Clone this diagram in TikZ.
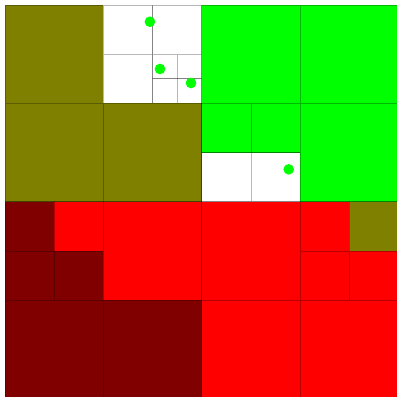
\documentclass[tikz,border=0pt]{standalone}
\usepackage{tikz}
\usepackage[dvipsnames]{xcolor}

\definecolor{olivecell}{HTML}{808000}
\definecolor{greencell}{HTML}{00FF00}
\definecolor{redcell}{HTML}{FF0000}
\definecolor{darkcell}{HTML}{800000}

\tikzset{
  cell/.style={draw=black, draw opacity=0.28, line width=0.45pt},
  point/.style={fill=greencell},
}

\begin{document}
\begin{tikzpicture}
      \useasboundingbox (-0.102,0.033) rectangle (7.947,8.102);

      % Upper left quarter: olive, with the white corner split further
      \filldraw[cell, fill=olivecell] (0,6) rectangle (2,8);
      \filldraw[cell, fill=white] (2,7) rectangle (3,8);
      \filldraw[cell, fill=white] (3,7) rectangle (4,8);
      \filldraw[cell, fill=white] (2,6) rectangle (3,7);
      \filldraw[cell, fill=white] (3,6.5) rectangle (3.5,7);
      \filldraw[cell, fill=white] (3.5,6.5) rectangle (4,7);
      \filldraw[cell, fill=white] (3,6) rectangle (3.5,6.5);
      \filldraw[cell, fill=white] (3.5,6) rectangle (4,6.5);
      \filldraw[cell, fill=olivecell] (0,4) rectangle (2,6);
      \filldraw[cell, fill=olivecell] (2,4) rectangle (4,6);

      % Upper right quarter: green, two white cells below
      \filldraw[cell, fill=greencell] (4,6) rectangle (6,8);
      \filldraw[cell, fill=greencell] (6,6) rectangle (8,8);
      \filldraw[cell, fill=greencell] (4,5) rectangle (5,6);
      \filldraw[cell, fill=greencell] (5,5) rectangle (6,6);
      \filldraw[cell, fill=white] (4,4) rectangle (5,5);
      \filldraw[cell, fill=white] (5,4) rectangle (6,5);
      \filldraw[cell, fill=greencell] (6,4) rectangle (8,6);

      % Lower left quarter: dark red and red
      \filldraw[cell, fill=darkcell] (0,3) rectangle (1,4);
      \filldraw[cell, fill=redcell] (1,3) rectangle (2,4);
      \filldraw[cell, fill=darkcell] (0,2) rectangle (1,3);
      \filldraw[cell, fill=darkcell] (1,2) rectangle (2,3);
      \filldraw[cell, fill=redcell] (2,2) rectangle (4,4);
      \filldraw[cell, fill=darkcell] (0,0) rectangle (2,2);
      \filldraw[cell, fill=darkcell] (2,0) rectangle (4,2);

      % Lower right quarter: red, one olive cell
      \filldraw[cell, fill=redcell] (4,2) rectangle (6,4);
      \filldraw[cell, fill=redcell] (6,3) rectangle (7,4);
      \filldraw[cell, fill=olivecell] (7,3) rectangle (8,4);
      \filldraw[cell, fill=redcell] (6,2) rectangle (7,3);
      \filldraw[cell, fill=redcell] (7,2) rectangle (8,3);
      \filldraw[cell, fill=redcell] (4,0) rectangle (6,2);
      \filldraw[cell, fill=redcell] (6,0) rectangle (8,2);

      % Points
      \fill[point] (2.945,7.66) circle (0.108);
      \fill[point] (3.15,6.70) circle (0.108);
      \fill[point] (3.78,6.415) circle (0.108);
      \fill[point] (5.766,4.66) circle (0.108);
    \end{tikzpicture}
\end{document}
